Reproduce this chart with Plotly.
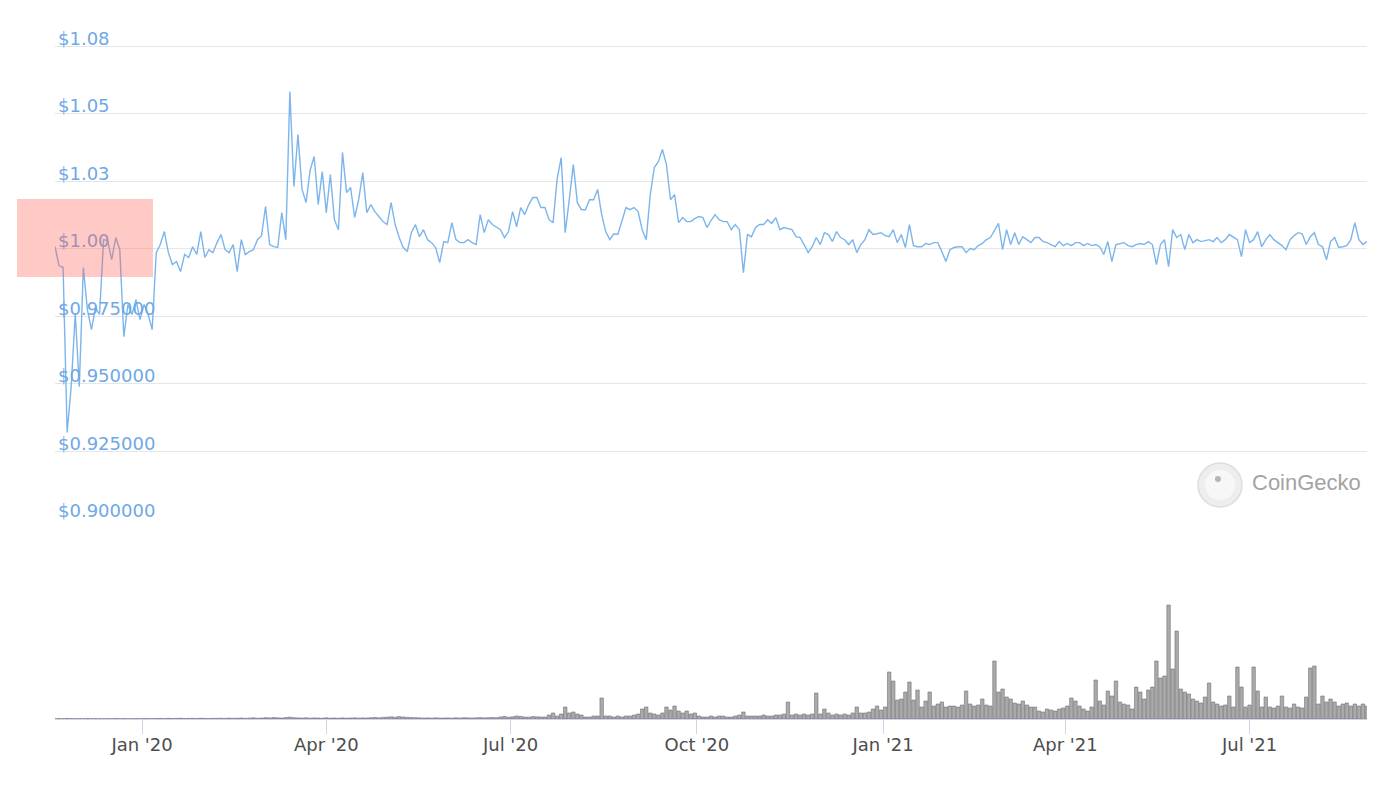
import pandas as pd
import plotly.graph_objects as go

# ---------------- data ----------------
start_date = "2019-11-19"   # first sample, one sample every 2 days
step = "2D"

price = [
    1.0007, 0.9937, 0.9930, 0.9319, 0.9489, 0.9760, 0.9489, 0.9930, 0.9774, 0.9700,
    0.9781, 0.9756, 1.0033, 1.0030, 0.9959, 1.0041, 0.9996, 0.9674, 0.9793, 0.9756,
    0.9811, 0.9737, 0.9793, 0.9756, 0.9700, 0.9985, 1.0015, 1.0063, 0.9985, 0.9941,
    0.9952, 0.9915, 0.9978, 0.9967, 1.0007, 0.9978, 1.0063, 0.9967, 0.9996, 0.9985,
    1.0022, 1.0052, 0.9996, 0.9985, 1.0015, 0.9915, 1.0033, 0.9978, 0.9989, 0.9996,
    1.0033, 1.0048, 1.0156, 1.0015, 1.0007, 1.0004, 1.0133, 1.0033, 1.0581, 1.0230,
    1.0422, 1.0220, 1.0170, 1.0290, 1.0341, 1.0163, 1.0285, 1.0133, 1.0274, 1.0107,
    1.0070, 1.0356, 1.0207, 1.0226, 1.0115, 1.0181, 1.0281, 1.0133, 1.0163, 1.0137,
    1.0119, 1.0100, 1.0089, 1.0170, 1.0089, 1.0041, 1.0004, 0.9989, 1.0059, 1.0089,
    1.0044, 1.0070, 1.0033, 1.0022, 1.0004, 0.9948, 1.0026, 1.0022, 1.0096, 1.0033,
    1.0022, 1.0022, 1.0033, 1.0022, 1.0015, 1.0126, 1.0059, 1.0107, 1.0089, 1.0078,
    1.0070, 1.0041, 1.0063, 1.0137, 1.0081, 1.0152, 1.0126, 1.0163, 1.0189, 1.0189,
    1.0152, 1.0152, 1.0107, 1.0096, 1.0256, 1.0337, 1.0059, 1.0181, 1.0311, 1.0170,
    1.0144, 1.0144, 1.0181, 1.0181, 1.0219, 1.0126, 1.0063, 1.0033, 1.0055, 1.0052,
    1.0107, 1.0152, 1.0144, 1.0152, 1.0137, 1.0070, 1.0033, 1.0200, 1.0300, 1.0322,
    1.0367, 1.0311, 1.0181, 1.0200, 1.0096, 1.0115, 1.0100, 1.0100, 1.0111, 1.0119,
    1.0115, 1.0078, 1.0104, 1.0126, 1.0107, 1.0100, 1.0100, 1.0070, 1.0089, 1.0070,
    0.9911, 1.0052, 1.0044, 1.0078, 1.0089, 1.0089, 1.0107, 1.0093, 1.0115, 1.0070,
    1.0078, 1.0074, 1.0070, 1.0044, 1.0041, 1.0015, 0.9985, 1.0007, 1.0041, 1.0015,
    1.0059, 1.0052, 1.0026, 1.0063, 1.0041, 1.0033, 1.0015, 1.0033, 0.9985, 1.0015,
    1.0033, 1.0070, 1.0052, 1.0055, 1.0059, 1.0048, 1.0044, 1.0070, 1.0022, 1.0052,
    1.0004, 1.0089, 1.0011, 1.0007, 1.0007, 1.0019, 1.0015, 1.0022, 1.0022, 0.9989,
    0.9952, 0.9996, 1.0004, 1.0007, 1.0007, 0.9985, 1.0000, 0.9996, 1.0011, 1.0019,
    1.0033, 1.0041, 1.0070, 1.0093, 0.9996, 1.0070, 1.0015, 1.0059, 1.0015, 1.0044,
    1.0033, 1.0022, 1.0041, 1.0041, 1.0026, 1.0022, 1.0015, 1.0007, 1.0026, 1.0011,
    1.0019, 1.0011, 1.0022, 1.0022, 1.0011, 1.0019, 1.0011, 1.0015, 1.0007, 0.9978,
    1.0026, 0.9952, 1.0015, 1.0019, 1.0022, 1.0011, 1.0007, 1.0015, 1.0019, 1.0015,
    1.0026, 1.0015, 0.9941, 1.0015, 1.0033, 0.9933, 1.0070, 1.0041, 1.0052, 0.9996,
    1.0052, 1.0022, 1.0033, 1.0026, 1.0030, 1.0033, 1.0026, 1.0041, 1.0022, 1.0033,
    1.0052, 1.0041, 1.0033, 0.9970, 1.0070, 1.0022, 1.0033, 1.0063, 1.0007, 1.0033,
    1.0052, 1.0033, 1.0022, 1.0011, 0.9996, 1.0033, 1.0048, 1.0059, 1.0055, 1.0015,
    1.0044, 1.0059, 1.0015, 1.0007, 0.9959, 1.0026, 1.0041, 1.0004, 1.0007, 1.0011,
    1.0033, 1.0096, 1.0033, 1.0015, 1.0026,
]

# trading volume (arbitrary units, relative bar heights)
volume = [
    0.3, 0.4, 0.3, 0.5, 0.4, 0.3, 0.4, 0.3, 0.5, 0.3, 0.4, 0.3, 0.3, 0.4, 0.3, 0.5,
    0.3, 0.4, 0.3, 0.3, 0.4, 0.3, 0.5, 0.4, 0.3,
    0.5, 0.6, 0.4, 0.7, 0.5, 0.6, 0.8, 0.5, 0.6, 0.7, 0.5, 0.8, 0.6, 0.5, 0.7, 0.6,
    0.8, 0.6, 0.9, 0.7, 0.8, 1.0, 0.7, 0.9, 1.2, 0.8, 1.0, 1.3, 1.1, 1.5, 1.2, 1.0,
    1.4, 1.8, 1.3, 1.1, 1.0, 1.2, 0.9, 1.1, 1.0, 0.8, 1.2, 0.9, 1.0, 0.8, 1.1, 0.9,
    1.0, 1.2, 0.9, 1.1, 1.0, 1.3, 1.5, 1.2,
    1.6, 1.9, 2.2, 1.8, 2.4, 2.0, 1.7, 1.5, 1.3, 1.2, 1.0, 1.1, 0.9, 1.2, 1.0,
    1.0, 1.1, 0.9, 1.2, 1.0, 1.3, 1.1, 1.0, 1.2, 1.4, 1.1, 1.3, 1.5, 1.2, 2.0, 2.5,
    1.8, 2.2, 3.0, 2.6, 2.0, 1.8, 2.4, 2.2,
    2, 2, 4, 6, 3, 5, 12, 6, 7, 5,
    4, 2, 2, 3, 3, 21, 3, 3, 2, 3,
    2, 3, 3, 4, 5, 10, 12, 6, 5, 4,
    6, 12, 9, 13, 8, 6, 8, 5, 6, 3,
    2, 2, 3, 2, 3, 3, 2, 2, 3, 4,
    7, 3, 3, 3, 3, 4, 3, 3, 4, 4,
    5, 17, 4, 5, 4, 5, 4, 5, 26, 5,
    10, 6, 4, 5, 4, 5, 4, 6, 12, 6,
    6, 7, 10, 13, 9, 12, 47, 38, 19, 20,
    27, 37, 19, 29, 12, 18, 27, 13, 15, 17,
    12, 13, 13, 12, 14, 28, 15, 13, 14, 20,
    14, 13, 58, 27, 30, 22, 20, 16, 15, 18,
    14, 12, 12, 8, 7, 10, 9, 8, 10, 11,
    13, 21, 18, 13, 10, 8, 12, 39, 18, 14,
    28, 23, 38, 17, 15, 14, 10, 32, 27, 20,
    29, 32, 58, 41, 43, 114, 50, 88, 30, 27,
    25, 20, 18, 16, 22, 36, 17, 15, 13, 14,
    23, 12, 52, 32, 12, 14, 52, 28, 12, 22,
    12, 11, 13, 23, 12, 11, 15, 12, 11, 22,
    51, 53, 15, 23, 17, 20, 17, 13, 15, 16,
    13, 15, 13, 15, 13,
]

price_tick_values = [0.900, 0.925, 0.950, 0.975, 1.000, 1.025, 1.050, 1.075]
price_tick_labels = ["$0.900000", "$0.925000", "$0.950000", "$0.975000",
                     "$1.00", "$1.03", "$1.05", "$1.08"]

x_range = ["2019-11-19", "2021-08-28"]

# ---------------- figure ----------------
dates = pd.date_range(start_date, periods=len(price), freq=step)

fig = go.Figure()
fig.add_trace(go.Bar(
    x=dates, y=volume, yaxis="y2", xaxis="x",
    marker=dict(color="rgba(150,150,150,0.8)", line=dict(color="#707070", width=0.6)),
    hoverinfo="skip", showlegend=False,
))
fig.add_trace(go.Scatter(
    x=dates, y=price, yaxis="y", xaxis="x", mode="lines",
    line=dict(color="#7cb5ec", width=1.4), showlegend=False,
))

font_main = "DejaVu Sans"

fig.update_layout(
    width=1392, height=780,
    margin=dict(l=47, r=33, t=31, b=69),
    paper_bgcolor="white", plot_bgcolor="white",
    bargap=0.15,
    font=dict(family=font_main),
    xaxis=dict(
        range=x_range, anchor="y2", type="date",
        tick0="2020-01-01", dtick="M3", tickformat="%b '%y",
        ticks="outside", ticklen=14, tickcolor="#ccd6eb", tickwidth=1,
        showline=True, linecolor="#ccd6eb", linewidth=1,
        showgrid=False, zeroline=False,
        ticklabelstandoff=-5,
        tickfont=dict(size=18, color="#4d4d4d", family=font_main),
    ),
    yaxis=dict(
        domain=[0.29412, 1.0], range=[0.8999, 1.07759],
        tickvals=price_tick_values, ticktext=price_tick_labels,
        ticklabelposition="inside top", ticklabeloverflow="allow",
        ticklabelshift=5,
        showgrid=True, gridcolor="#e6e6e6", gridwidth=1,
        zeroline=False, showline=False, ticks="",
        tickfont=dict(size=18, color="#6fa8e6", family=font_main),
    ),
    yaxis2=dict(
        domain=[0.0, 0.2], range=[0, 136],
        visible=False, showgrid=False, zeroline=False,
    ),
    shapes=[
        # pink highlight box
        dict(type="rect", xref="paper", yref="paper",
             x0=-0.02896, x1=0.0747, y0=0.6500, y1=0.7647,
             fillcolor="rgba(255,100,90,0.35)", line=dict(width=0), layer="above"),
        # CoinGecko watermark logo
        dict(type="circle", xref="paper", yref="paper",
             x0=0.8712, x1=0.9047, y0=0.3118, y1=0.3765,
             fillcolor="#eeeeee", line=dict(color="#dddddd", width=1.5), layer="above"),
        dict(type="circle", xref="paper", yref="paper",
             x0=0.8765, x1=0.8995, y0=0.3221, y1=0.3662,
             fillcolor="#f7f7f7", line=dict(width=0), layer="above"),
        dict(type="circle", xref="paper", yref="paper",
             x0=0.8841, x1=0.8887, y0=0.3485, y1=0.3574,
             fillcolor="#b5b5b5", line=dict(width=0), layer="above"),
    ],
    annotations=[
        dict(text="CoinGecko", xref="paper", yref="paper", x=0.9108, y=0.3485,
             xanchor="left", yanchor="middle", showarrow=False,
             font=dict(family="Liberation Sans", size=22, color="#a3a3a3")),
    ],
)

fig.write_html("out.html")
